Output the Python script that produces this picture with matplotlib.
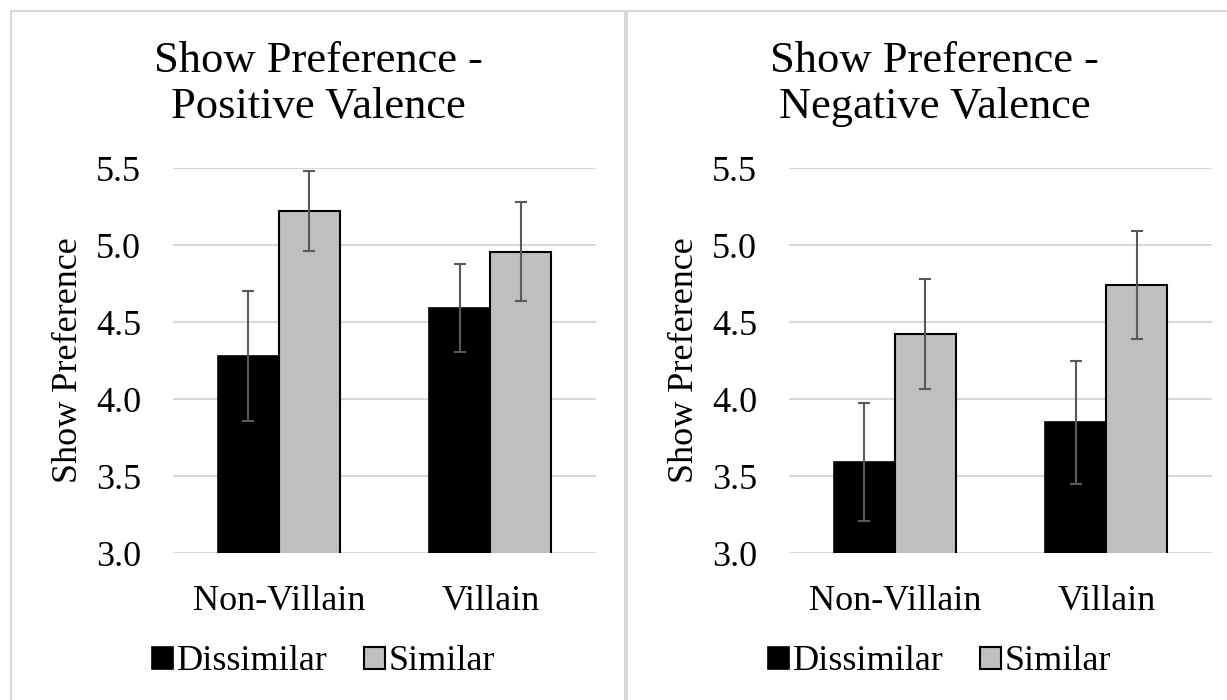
import matplotlib.pyplot as plt
from matplotlib.patches import Rectangle, Patch
import numpy as np

plt.rcParams['font.family'] = ['Liberation Serif', 'DejaVu Serif']

# Daten
categories = ['Non-Villain', 'Villain']
series = ['Dissimilar', 'Similar']
titles = ['Show Preference -\nPositive Valence', 'Show Preference -\nNegative Valence']

pos_dissimilar = [4.28, 4.59]
pos_similar = [5.22, 4.956]
pos_dissimilar_err = [0.42, 0.285]
pos_similar_err = [0.26, 0.32]

neg_dissimilar = [3.59, 3.85]
neg_similar = [4.42, 4.74]
neg_dissimilar_err = [0.385, 0.40]
neg_similar_err = [0.356, 0.35]

yticks = [3.0, 3.5, 4.0, 4.5, 5.0, 5.5]

W, H = 1227, 700
fig = plt.figure(figsize=(W / 100, H / 100), dpi=100)

panels = [
    (pos_dissimilar, pos_similar, pos_dissimilar_err, pos_similar_err),
    (neg_dissimilar, neg_similar, neg_dissimilar_err, neg_similar_err),
]
ax_left_px = [173, 789]
panel_box = [(11, 625), (627, 1245)]

bw = 0.2885
x = np.arange(len(categories))

for i, (dis, sim, dis_err, sim_err) in enumerate(panels):
    # Rahmen um jedes Diagramm
    x0, x1 = panel_box[i]
    fig.patches.append(Rectangle((x0 / W, -0.05), (x1 - x0) / W, 1.05 - 11 / H,
                                 transform=fig.transFigure, fill=False,
                                 edgecolor='#d9d9d9', linewidth=1.5))

    ax = fig.add_axes([ax_left_px[i] / W, 1 - 553 / H, 423 / W, 385 / H])
    ax.set_axisbelow(True)
    ax.grid(axis='y', color='#d9d9d9', linewidth=1.5)
    ax.bar(x - bw / 2, dis, bw, color='black', edgecolor='black',
           linewidth=1.2, label=series[0])
    ax.bar(x + bw / 2, sim, bw, color='#bfbfbf', edgecolor='black',
           linewidth=1.5, label=series[1])
    ax.errorbar(x - bw / 2, dis, yerr=dis_err, fmt='none', ecolor='#595959',
                elinewidth=1.5, capsize=4.3, capthick=1.5)
    ax.errorbar(x + bw / 2, sim, yerr=sim_err, fmt='none', ecolor='#595959',
                elinewidth=1.5, capsize=4.3, capthick=1.5)

    ax.set_xlim(-0.5, 1.5)
    ax.set_ylim(3.0, 5.5)
    ax.set_yticks(yticks)
    ax.set_yticklabels([f'{t:.1f}' for t in yticks])
    ax.set_xticks(x)
    ax.set_xticklabels(categories)
    ax.tick_params(length=0, labelsize=26)
    ax.tick_params(axis='y', pad=23)
    ax.tick_params(axis='x', pad=23)
    for s in ax.spines.values():
        s.set_visible(False)
    ax.set_ylabel('Show Preference', fontsize=26, labelpad=8)

    cx = (ax_left_px[i] + 211.5 - 66) / W
    fig.text(cx, 1 - 84 / H, titles[i], fontsize=32, ha='center', va='center',
             linespacing=1.2)

    handles = [Patch(facecolor='black', edgecolor='black', linewidth=1.2),
               Patch(facecolor='#bfbfbf', edgecolor='black', linewidth=1.5)]
    fig.legend(handles, series, loc='center', ncol=2, frameon=False,
               bbox_to_anchor=(cx + 5 / W, 1 - 662 / H), fontsize=26,
               handlelength=0.58, handleheight=0.58, handletextpad=0.1,
               columnspacing=1.0, borderaxespad=0)

plt.savefig('out.png', dpi=100)
